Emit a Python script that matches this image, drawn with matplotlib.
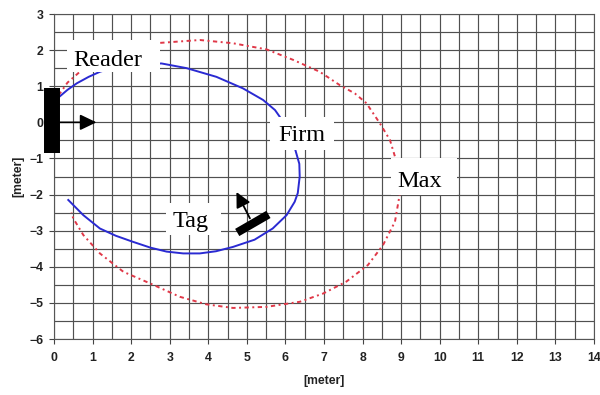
import matplotlib
matplotlib.use("Agg")
import matplotlib.pyplot as plt
from matplotlib.patches import Rectangle

# ── Measured field contours [meter] ───────────────────────────────────────────
firm_x = [0.13, 0.35, 0.59, 0.90, 1.19, 1.60, 2.20, 2.79, 3.44, 4.21, 4.90,
          5.42, 5.73, 6.02, 6.24, 6.36, 6.37, 6.32, 6.24, 6.03, 5.67, 5.20,
          4.64, 4.20, 3.78, 3.35, 2.92, 2.50, 2.05, 1.60, 1.19, 0.76, 0.37]
firm_y = [0.70, 0.90, 1.08, 1.26, 1.40, 1.53, 1.62, 1.63, 1.50, 1.26, 0.94,
          0.62, 0.34, -0.10, -0.70, -1.15, -1.50, -1.96, -2.20, -2.57, -2.94,
          -3.25, -3.45, -3.57, -3.63, -3.63, -3.58, -3.47, -3.31, -3.14,
          -2.94, -2.57, -2.15]

max_x = [0.12, 0.35, 0.67, 1.10, 1.80, 2.75, 3.78, 4.64, 5.51, 6.20, 6.89,
         7.41, 7.80, 8.10, 8.45, 8.71, 8.84, 8.93, 8.96, 8.84, 8.53, 8.14,
         7.58, 6.98, 6.37, 5.51, 4.64, 3.95, 3.26, 2.49, 1.80, 1.19, 0.76,
         0.50, 0.45]
max_y = [0.75, 1.10, 1.40, 1.75, 2.05, 2.20, 2.28, 2.19, 2.02, 1.73, 1.40,
         1.03, 0.80, 0.53, -0.03, -0.49, -0.95, -1.50, -2.01, -2.75, -3.40,
         -3.95, -4.41, -4.74, -4.97, -5.11, -5.14, -5.04, -4.83, -4.46,
         -4.14, -3.63, -3.12, -2.66, -2.50]

x_ticks = list(range(0, 15))
y_ticks = list(range(-6, 4))

# ── Sketch annotations (reader antenna, tag, labels) ─────────────────────────
reader_bar = ([-0.05, -0.05], [-0.86, 0.95])
reader_arrow = ((0.16, 0.0), (1.10, 0.0))
tag_bar = ([4.75, 5.56], [-3.05, -2.55])
tag_arrow = ((5.08, -2.66), (4.73, -1.93))

# (box x0, box y0, box x1, box y1, text x, text baseline y, text)
labels = [
    (0.33, 1.40, 2.74, 2.28, 0.49, 1.56, "Reader"),
    (5.59, -0.77, 7.27, 0.15, 5.82, -0.51, "Firm"),
    (8.74, -2.01, 10.46, -1.00, 8.90, -1.78, "Max"),
    (2.90, -3.12, 4.32, -2.23, 3.08, -2.89, "Tag"),
]

fig = plt.figure(figsize=(6, 3.95), dpi=100)
ax = fig.add_axes([54 / 600, 1 - 339 / 395, 540 / 600, 325 / 395])

ax.set_xlim(0, 14)
ax.set_ylim(-6, 3)
ax.set_xticks(x_ticks)
ax.set_yticks(y_ticks)
ax.set_xticks([t + 0.5 for t in x_ticks[:-1]], minor=True)
ax.set_yticks([t + 0.5 for t in y_ticks[:-1]], minor=True)
ax.grid(True, which="both", color="#505050", lw=0.85)
ax.set_axisbelow(True)
ax.tick_params(which="minor", length=0)
ax.tick_params(which="major", length=3.5, width=0.8, color="#444444",
               labelcolor="#222222")
ax.tick_params(axis="x", pad=6)
ax.tick_params(axis="y", pad=4)
for lab in ax.get_xticklabels() + ax.get_yticklabels():
    lab.set_fontfamily("Liberation Sans")
    lab.set_fontweight("bold")
    lab.set_fontsize(8.8)
for sp in ax.spines.values():
    sp.set_color("#555555")
    sp.set_linewidth(0.8)

ax.set_xlabel("[meter]", fontfamily="Liberation Sans", fontweight="bold",
              fontsize=8.8, color="#222222", labelpad=8)
ax.set_ylabel("[meter]", fontfamily="Liberation Sans", fontweight="bold",
              fontsize=8.8, color="#222222", labelpad=4)

ax.plot(max_x, max_y, color="#e03848", lw=1.4, ls=(0, (2.2, 1.8, 1, 1.8)),
        zorder=3)
ax.plot(firm_x, firm_y, color="#2a2ad2", lw=1.4, zorder=3)

# reader and tag symbols
ax.plot(*reader_bar, color="black", lw=11.5, solid_capstyle="butt",
        clip_on=False, zorder=7)
ax.annotate("", xy=reader_arrow[1], xytext=reader_arrow[0],
            arrowprops=dict(arrowstyle="-|>,head_length=0.5,head_width=0.24",
                            mutation_scale=20, color="black", lw=1.2,
                            shrinkA=0, shrinkB=0), zorder=7)
ax.plot(*tag_bar, color="black", lw=6, solid_capstyle="butt", zorder=7)
ax.annotate("", xy=tag_arrow[1], xytext=tag_arrow[0],
            arrowprops=dict(arrowstyle="-|>,head_length=0.5,head_width=0.25",
                            mutation_scale=18, color="black", lw=1.3,
                            shrinkA=0, shrinkB=0), zorder=7)

for x0, y0, x1, y1, tx, ty, txt in labels:
    ax.add_patch(Rectangle((x0, y0), x1 - x0, y1 - y0, facecolor="white",
                           edgecolor="none", zorder=5))
    ax.text(tx, ty, txt, ha="left", va="baseline", fontsize=17.5,
            fontfamily="Liberation Serif", color="black", zorder=6)

fig.savefig("out.png", dpi=100)
